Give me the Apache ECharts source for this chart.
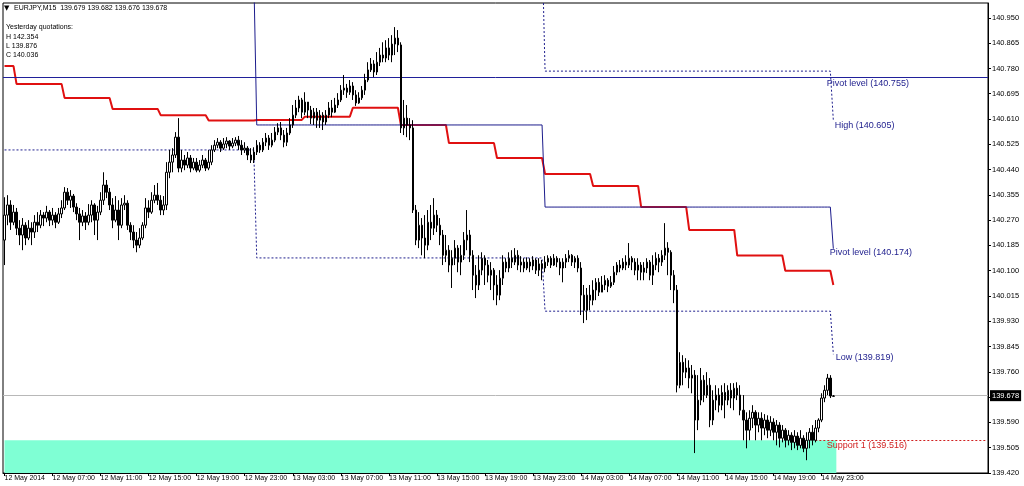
<!DOCTYPE html>
<html><head><meta charset="utf-8">
<script src="https://cdn.jsdelivr.net/npm/echarts@6/dist/echarts.min.js"></script>
<style>html,body{margin:0;padding:0;background:#fff}#c{width:1024px;height:486px}</style>
</head><body><div id="c"></div>
<script>
// ---------- data ----------
const symbolName = 'EURJPY,M15';
const xTickLabels = ['12 May 2014','12 May 07:00','12 May 11:00','12 May 15:00','12 May 19:00','12 May 23:00',
  '13 May 03:00','13 May 07:00','13 May 11:00','13 May 15:00','13 May 19:00','13 May 23:00',
  '14 May 03:00','14 May 07:00','14 May 11:00','14 May 15:00','14 May 19:00','14 May 23:00'];
const barsPerTick = 16;
const totalSlots = 328;
const yesterday = {H:'142.354', L:'139.876', C:'140.036'};

const closes = [140.287,140.321,140.263,140.297,140.243,140.220,140.253,140.210,140.243,140.230,
140.263,140.253,140.287,140.277,140.297,140.270,140.287,140.263,140.291,140.311,
140.364,140.337,140.351,140.314,140.291,140.263,140.284,140.263,140.287,140.321,
140.270,140.297,140.337,140.388,140.364,140.321,140.270,140.304,140.253,140.321,
140.327,140.253,140.230,140.203,140.186,140.210,140.253,140.311,140.297,140.337,
140.354,140.337,140.304,140.321,140.431,140.465,140.489,140.549,140.445,140.472,
140.455,140.479,140.445,140.465,140.438,140.455,140.472,140.445,140.465,140.506,
140.522,140.532,140.512,140.526,140.536,140.519,140.529,140.539,140.522,140.506,
140.512,140.489,140.472,140.499,140.522,140.506,140.532,140.546,140.522,140.539,
140.566,140.580,140.556,140.532,140.563,140.590,140.623,140.647,140.674,140.633,
140.667,140.640,140.613,140.633,140.606,140.623,140.600,140.623,140.647,140.633,
140.657,140.674,140.707,140.714,140.700,140.721,140.691,140.664,140.681,140.707,
140.741,140.775,140.795,140.768,140.801,140.825,140.815,140.849,140.825,140.862,
140.882,140.859,140.580,140.613,140.590,140.580,140.304,140.203,140.253,140.210,
140.186,140.263,140.243,140.287,140.253,140.220,140.152,140.169,140.119,140.142,
140.176,140.129,140.152,140.203,140.220,140.152,140.085,140.052,140.102,140.142,
140.119,140.085,140.102,140.052,140.018,140.075,140.129,140.109,140.142,140.129,
140.152,140.119,140.129,140.109,140.129,140.116,140.136,140.102,140.123,140.109,
140.129,140.142,140.119,140.142,140.129,140.109,140.129,140.142,140.152,140.129,
140.142,140.109,140.018,139.967,140.018,140.001,140.035,140.061,140.028,140.052,
140.068,140.048,140.061,140.095,140.119,140.109,140.129,140.119,140.142,140.129,
140.102,140.119,140.095,140.109,140.129,140.085,140.119,140.142,140.129,140.152,
140.176,140.162,140.085,140.035,139.715,139.792,139.759,139.773,139.739,139.749,
139.598,139.665,139.732,139.682,139.715,139.598,139.665,139.682,139.648,139.691,
139.665,139.698,139.672,139.705,139.682,139.631,139.598,139.564,139.604,139.624,
139.581,139.604,139.571,139.598,139.564,139.591,139.557,139.581,139.537,139.564,
139.530,139.547,139.523,139.544,139.513,139.537,139.503,139.530,139.557,139.530,
139.571,139.598,139.672,139.698,139.739,139.679,139.678];

const opens = [140.203,140.287,140.321,140.263,140.297,140.243,140.220,140.253,140.210,140.243,
140.230,140.263,140.253,140.287,140.277,140.297,140.270,140.287,140.263,140.291,
140.311,140.364,140.337,140.351,140.314,140.291,140.263,140.284,140.263,140.287,
140.321,140.270,140.297,140.337,140.388,140.364,140.321,140.270,140.304,140.253,
140.321,140.327,140.253,140.230,140.203,140.186,140.210,140.253,140.311,140.297,
140.337,140.354,140.337,140.304,140.321,140.431,140.465,140.489,140.549,140.445,
140.472,140.455,140.479,140.445,140.465,140.438,140.455,140.472,140.445,140.465,
140.506,140.522,140.532,140.512,140.526,140.536,140.519,140.529,140.539,140.522,
140.506,140.512,140.489,140.472,140.499,140.522,140.506,140.532,140.546,140.522,
140.539,140.566,140.580,140.556,140.532,140.563,140.590,140.623,140.647,140.674,
140.633,140.667,140.640,140.613,140.633,140.606,140.623,140.600,140.623,140.647,
140.633,140.657,140.674,140.707,140.714,140.700,140.721,140.691,140.664,140.681,
140.707,140.741,140.775,140.795,140.768,140.801,140.825,140.815,140.849,140.825,
140.862,140.882,140.859,140.580,140.613,140.590,140.580,140.304,140.203,140.253,
140.210,140.186,140.263,140.243,140.287,140.253,140.220,140.152,140.169,140.119,
140.142,140.176,140.129,140.152,140.203,140.220,140.152,140.085,140.052,140.102,
140.142,140.119,140.085,140.102,140.052,140.018,140.075,140.129,140.109,140.142,
140.129,140.152,140.119,140.129,140.109,140.129,140.116,140.136,140.102,140.123,
140.109,140.129,140.142,140.119,140.142,140.129,140.109,140.129,140.142,140.152,
140.129,140.142,140.109,140.018,139.967,140.018,140.001,140.035,140.061,140.028,
140.052,140.068,140.048,140.061,140.095,140.119,140.109,140.129,140.119,140.142,
140.129,140.102,140.119,140.095,140.109,140.129,140.085,140.119,140.142,140.129,
140.152,140.176,140.162,140.085,140.035,139.715,139.792,139.759,139.773,139.739,
139.749,139.598,139.665,139.732,139.682,139.715,139.598,139.665,139.682,139.648,
139.691,139.665,139.698,139.672,139.705,139.682,139.631,139.598,139.564,139.604,
139.624,139.581,139.604,139.571,139.598,139.564,139.591,139.557,139.581,139.537,
139.564,139.530,139.547,139.523,139.544,139.513,139.537,139.503,139.530,139.557,
139.530,139.571,139.598,139.672,139.698,139.739,139.679];

const highs = [140.347,140.354,140.337,140.321,140.311,140.270,140.277,140.263,140.270,140.263,
140.287,140.297,140.304,140.297,140.318,140.304,140.311,140.297,140.311,140.337,
140.381,140.378,140.371,140.358,140.327,140.311,140.304,140.297,140.324,140.337,
140.327,140.318,140.364,140.431,140.405,140.378,140.344,140.351,140.337,140.344,
140.354,140.337,140.263,140.253,140.230,140.243,140.263,140.344,140.337,140.364,
140.388,140.395,140.354,140.351,140.465,140.506,140.512,140.566,140.613,140.506,
140.489,140.499,140.489,140.479,140.479,140.472,140.489,140.479,140.506,140.522,
140.539,140.546,140.539,140.546,140.549,140.539,140.546,140.549,140.553,140.539,
140.532,140.519,140.512,140.515,140.539,140.532,140.546,140.563,140.556,140.563,
140.583,140.596,140.600,140.573,140.580,140.613,140.657,140.674,140.688,140.681,
140.700,140.667,140.654,140.647,140.647,140.640,140.633,140.640,140.667,140.674,
140.681,140.697,140.724,140.758,140.728,140.741,140.734,140.707,140.700,140.721,
140.762,140.801,140.815,140.808,140.835,140.849,140.868,140.875,140.882,140.892,
140.919,140.909,140.868,140.674,140.657,140.613,140.606,140.321,140.297,140.277,
140.287,140.304,140.321,140.344,140.304,140.277,140.237,140.220,140.186,140.169,
140.203,140.186,140.186,140.230,140.304,140.237,140.169,140.119,140.152,140.162,
140.152,140.136,140.129,140.109,140.085,140.102,140.152,140.142,140.162,140.169,
140.176,140.169,140.149,140.142,140.145,140.142,140.149,140.142,140.142,140.136,
140.149,140.152,140.149,140.156,140.149,140.142,140.142,140.156,140.169,140.156,
140.149,140.152,140.129,140.052,140.042,140.052,140.068,140.075,140.075,140.082,
140.085,140.075,140.082,140.116,140.129,140.136,140.142,140.152,140.193,140.149,
140.142,140.142,140.129,140.129,140.142,140.136,140.152,140.162,140.156,140.169,
140.260,140.196,140.169,140.102,140.052,139.826,139.816,139.806,139.799,139.783,
139.766,139.749,139.773,139.749,139.759,139.739,139.698,139.715,139.705,139.715,
139.722,139.715,139.722,139.722,139.725,139.715,139.682,139.624,139.631,139.648,
139.631,139.624,139.624,139.618,139.614,139.611,139.604,139.598,139.591,139.581,
139.571,139.564,139.557,139.564,139.557,139.564,139.547,139.557,139.571,139.581,
139.598,139.604,139.688,139.715,139.753,139.749,139.682];

const lows = [140.119,140.253,140.237,140.253,140.220,140.186,140.169,140.186,140.203,140.186,
140.210,140.230,140.243,140.250,140.263,140.250,140.253,140.243,140.257,140.277,
140.304,140.321,140.311,140.297,140.270,140.203,140.250,140.237,140.253,140.263,
140.220,140.203,140.287,140.321,140.344,140.304,140.243,140.263,140.203,140.243,
140.304,140.237,140.203,140.176,140.162,140.176,140.203,140.243,140.277,140.291,
140.327,140.321,140.287,140.287,140.304,140.411,140.431,140.479,140.431,140.431,
140.438,140.445,140.431,140.438,140.431,140.431,140.445,140.435,140.438,140.455,
140.499,140.512,140.499,140.506,140.512,140.506,140.512,140.519,140.506,140.489,
140.496,140.472,140.462,140.462,140.489,140.496,140.499,140.519,140.506,140.515,
140.532,140.556,140.539,140.515,140.519,140.556,140.580,140.613,140.633,140.613,
140.623,140.613,140.593,140.590,140.580,140.580,140.573,140.590,140.613,140.616,
140.630,140.647,140.667,140.691,140.681,140.691,140.674,140.654,140.661,140.674,
140.691,140.734,140.768,140.751,140.758,140.788,140.801,140.801,140.808,140.801,
140.825,140.835,140.563,140.556,140.549,140.539,140.294,140.186,140.176,140.152,
140.142,140.169,140.203,140.220,140.230,140.186,140.119,140.129,140.095,140.042,
140.119,140.095,140.085,140.136,140.169,140.129,140.035,140.008,140.035,140.085,
140.052,140.061,140.035,140.001,139.984,140.001,140.052,140.095,140.095,140.109,
140.119,140.102,140.095,140.095,140.102,140.095,140.102,140.089,140.082,140.068,
140.095,140.116,140.109,140.116,140.112,140.085,140.061,140.109,140.129,140.116,
140.109,140.095,139.951,139.924,139.934,139.967,139.984,140.001,140.015,140.028,
140.035,140.028,140.042,140.052,140.085,140.095,140.102,140.102,140.109,140.102,
140.085,140.068,140.068,140.068,140.092,140.068,140.052,140.102,140.095,140.116,
140.136,140.085,140.035,139.991,139.691,139.705,139.715,139.739,139.705,139.688,
139.487,139.564,139.648,139.658,139.672,139.574,139.581,139.631,139.624,139.631,
139.604,139.648,139.638,139.631,139.665,139.614,139.530,139.503,139.530,139.571,
139.530,139.557,139.530,139.547,139.537,139.544,139.530,139.513,139.506,139.523,
139.506,139.513,139.497,139.503,139.497,139.503,139.490,139.463,139.503,139.513,
139.523,139.557,139.591,139.658,139.682,139.672,139.676];

// stepped red average: value changes at these bars
const maStarts = [0,4,20,36,52,68,84,100,116,132,148,164,180,196,212,228,244,260,276];
const maLevels = [140.788,140.728,140.681,140.644,140.623,140.605,140.607,140.618,140.648,140.590,
                  140.529,140.479,140.425,140.385,140.314,140.237,140.151,140.100,140.052];

// daily levels (day starts at these bars)
const dayStarts   = [0, 84, 180, 276];
const pivotLevels = [141.100, 140.590, 140.314, 140.174];
const highLevels  = [141.300, 141.200, 140.771, 140.605];
const lowLevels   = [140.506, 140.143, 139.964, 139.819];

const weeklyPivot  = 140.745;
const supportLevel = 139.530;
const supportStartBar = 270;
const zoneEndBar = 277;
const lastPrice = 139.678;

const levelLabels = [
  {text:'Pivot level (140.755)', bar:274, value:140.745, color:'#1c1c8c', off:[0,1]},
  {text:'High (140.605)',        bar:276, value:140.605, color:'#1c1c8c', off:[2,1]},
  {text:'Pivot level (140.174)', bar:276, value:140.174, color:'#1c1c8c', off:[-3,0]},
  {text:'Low (139.819)',         bar:276, value:139.819, color:'#1c1c8c', off:[3,-1]},
  {text:'Support 1 (139.516)',   bar:274, value:139.530, color:'#d02020', off:[0,1]}
];

// ---------- build ----------
const n = closes.length;
function expand(starts, levels){
  const out = [];
  for (let i = 0; i < n; i++){
    let k = 0;
    for (let j = 0; j < starts.length; j++) if (starts[j] <= i) k = j;
    out.push(levels[k]);
  }
  return out;
}
const categories = Array.from({length: totalSlots}, (_, i) => String(i));
const candleData = closes.map((c, i) => [opens[i], c, lows[i], highs[i]]);
const tickShown = i => i % barsPerTick === 0 && (i / barsPerTick) < xTickLabels.length;
const FONT = 'Liberation Sans';

const chart = echarts.init(document.getElementById('c'), null, {renderer:'canvas'});
chart.setOption({
  animation:false,
  backgroundColor:'#fff',
  grid:{left:3, right:36, top:3, bottom:13, show:true, borderColor:'#000', borderWidth:1},
  xAxis:{
    type:'category', data:categories, boundaryGap:true,
    axisLine:{show:true, lineStyle:{color:'#000', width:1}},
    axisTick:{show:true, alignWithLabel:true, interval:(i)=>tickShown(i), length:3, lineStyle:{color:'#000'}},
    axisLabel:{interval:(i)=>tickShown(i), formatter:(v,i)=> xTickLabels[i / barsPerTick] || '',
      align:'left', fontSize:7, fontFamily:FONT, color:'#000', margin:2},
    splitLine:{show:false}
  },
  yAxis:{
    type:'value', position:'right', min:139.420, max:141.000, interval:0.085,
    axisLine:{show:true, lineStyle:{color:'#000'}},
    axisTick:{show:true, length:3, lineStyle:{color:'#000'}},
    splitLine:{show:false},
    axisLabel:{showMaxLabel:false, fontSize:7.5, fontFamily:FONT, color:'#000', margin:4,
      formatter:(v)=> Math.abs(v - 139.675) < 1e-6 ? '' : v.toFixed(3)}
  },
  graphic:[
    {type:'text', left:4, top:5, style:{text:'▼', font:'7px DejaVu Sans', fill:'#000'}},
    {type:'text', left:14, top:5, style:{text: symbolName + '  ' + [opens[n-1], highs[n-1], lows[n-1], closes[n-1]].map(v=>v.toFixed(3)).join(' '),
      font:'7px ' + FONT, fill:'#000'}},
    {type:'text', left:6, top:24, style:{text:'Yesterday quotations:', font:'7px ' + FONT, fill:'#000'}},
    {type:'text', left:6, top:33.5, style:{text:'H ' + yesterday.H, font:'7px ' + FONT, fill:'#000'}},
    {type:'text', left:6, top:42.5, style:{text:'L ' + yesterday.L, font:'7px ' + FONT, fill:'#000'}},
    {type:'text', left:6, top:51.5, style:{text:'C ' + yesterday.C, font:'7px ' + FONT, fill:'#000'}}
  ],
  series:[
    {type:'line', name:'zone', data:[], z:1, silent:true,
      markArea:{silent:true, itemStyle:{color:'#7fffd4'},
        data:[[{xAxis:0, yAxis:supportLevel},{xAxis:zoneEndBar, yAxis:139.420}]]}},
    {type:'line', name:'levels', data:[], z:2, silent:true,
      markLine:{silent:true, symbol:['none','none'], animation:false,
        data:[
          {yAxis:lastPrice, lineStyle:{color:'#b8b8b8', width:1, type:'solid'},
            label:{show:true, position:'end', formatter: lastPrice.toFixed(3), backgroundColor:'#000', color:'#fff',
              padding:[2,2,1,2], distance:2, fontSize:7.5, fontFamily:FONT}},
          {yAxis:weeklyPivot, lineStyle:{color:'#20209a', width:1, type:'solid'}, label:{show:false}},
          [{coord:[supportStartBar, supportLevel], lineStyle:{color:'#d02020', width:1, type:[2,2]}, label:{show:false}},
           {coord:[totalSlots-1, supportLevel]}]
        ]}},
    {type:'candlestick', name:symbolName, data:candleData, z:5, barWidth:2,
      itemStyle:{color:'#fff', color0:'#000', borderColor:'#000', borderColor0:'#000', borderWidth:1}},
    {type:'line', name:'avg', data:expand(maStarts, maLevels), z:4, symbol:'none',
      lineStyle:{color:'#e01010', width:2}},
    {type:'line', name:'pivot', data:expand(dayStarts, pivotLevels), z:4, symbol:'none',
      lineStyle:{color:'#1c1c8c', width:1, type:'solid'}},
    {type:'line', name:'high', data:expand(dayStarts, highLevels), z:4, symbol:'none',
      lineStyle:{color:'#1c1c8c', width:1, type:[2,2]}},
    {type:'line', name:'low', data:expand(dayStarts, lowLevels), z:4, symbol:'none',
      lineStyle:{color:'#1c1c8c', width:1, type:[2,2]}},
    {type:'scatter', name:'labels', z:6, symbolSize:1, itemStyle:{opacity:0}, silent:true,
      data: levelLabels.map(l => ({value:[l.bar, l.value],
        label:{show:true, formatter:l.text, position:l.off, color:l.color, fontSize:9, fontFamily:FONT, opacity:1}}))}
  ]
});
</script></body></html>
